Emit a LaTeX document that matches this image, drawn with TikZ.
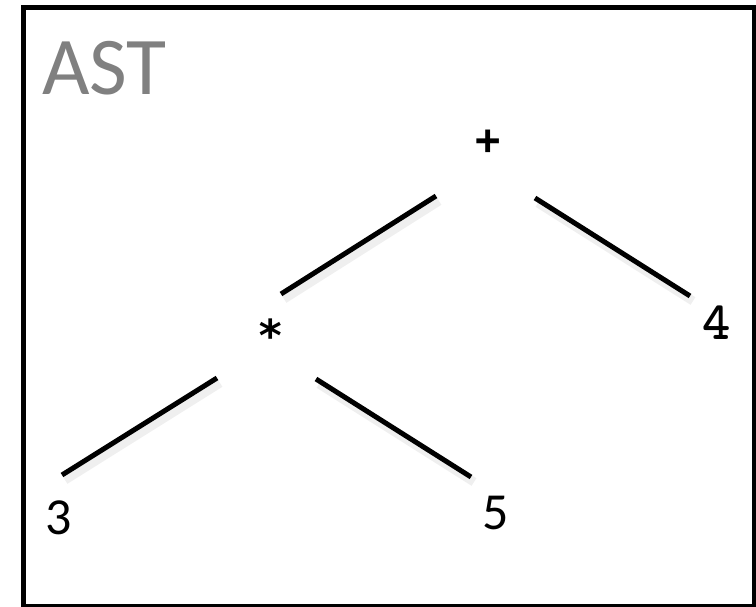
\documentclass[tikz,border=0pt]{standalone}
\usepackage{fontspec}
\setmainfont{Carlito}
\newfontfamily\astmono{DejaVu Sans Mono}
\begin{document}
\begin{tikzpicture}[x=1pt,y=-1pt,
  edge/.style={line width=5pt,line cap=butt,black},
  shade/.style={line width=9pt,gray,opacity=0.12},
  sanslabel/.style={inner sep=0pt,font=\fontsize{52}{52}\selectfont},
  monolabel/.style={inner sep=0pt,font=\astmono\fontsize{42}{42}\selectfont}]
\useasboundingbox (0,0) rectangle (756,607);
\fill[white] (0,0) rectangle (756,607);
\draw[line width=5pt] (23,8) rectangle (754,606);
\node[anchor=base west,inner sep=0pt,text=black!50,font=\fontsize{82}{82}\selectfont] (title) at (42,95) {AST};
\node[monolabel] (plus) at (488,142) {\bfseries +};
\node[monolabel,font=\astmono\fontsize{44}{44}\selectfont\bfseries] (star) at (271,335) {*};
\node[inner sep=0pt,font=\ttfamily\fontsize{54}{54}\selectfont\bfseries] (four) at (717,323) {4};
\node[sanslabel] (three) at (59,518) {3};
\node[sanslabel] (five) at (496,513) {5};
\coordinate (a1) at (436,196); \coordinate (a2) at (281,294);
\coordinate (b1) at (535,198); \coordinate (b2) at (690,296);
\coordinate (c1) at (217,378); \coordinate (c2) at (62,475);
\coordinate (d1) at (316,379); \coordinate (d2) at (471,477);
\foreach \p/\q in {a1/a2,b1/b2,c1/c2,d1/d2}{
  \draw[shade] ([shift={(3,5)}]\p) -- ([shift={(3,5)}]\q);
}
\draw[edge] (a1) -- (a2);
\draw[edge] (b1) -- (b2);
\draw[edge] (c1) -- (c2);
\draw[edge] (d1) -- (d2);
\end{tikzpicture}
\end{document}
